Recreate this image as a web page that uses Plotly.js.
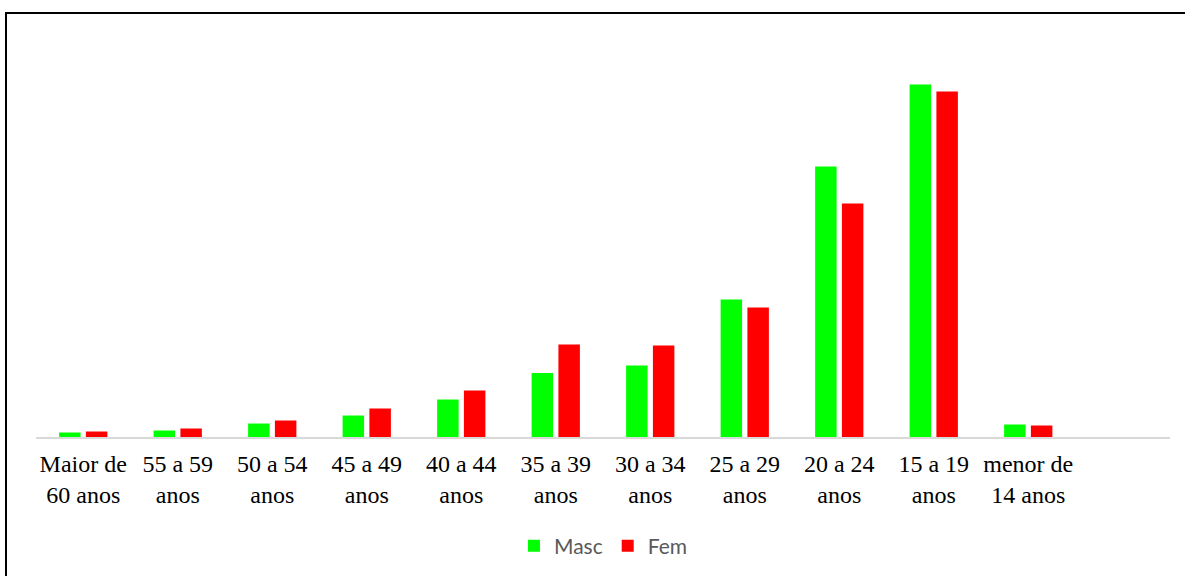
<!DOCTYPE html>
<html>
<head>
<meta charset="utf-8">
<script src="https://cdn.plot.ly/plotly-3.0.1.min.js"></script>
<style>
  html, body { margin: 0; padding: 0; background: #ffffff; overflow: hidden; }
  #chart { position: absolute; left: 0; top: 0; width: 1185px; height: 576px; }
  #frame {
    position: absolute; left: 5px; top: 12px; width: 2000px; height: 2000px;
    border-left: 2px solid #000; border-top: 2px solid #000;
    pointer-events: none;
  }
</style>
</head>
<body>
<div id="chart"></div>
<div id="frame"></div>
<script>
// Faixas etárias (rótulos do eixo x)
const faixas = [
  'Maior de<br>60 anos', '55 a 59<br>anos', '50 a 54<br>anos', '45 a 49<br>anos',
  '40 a 44<br>anos', '35 a 39<br>anos', '30 a 34<br>anos', '25 a 29<br>anos',
  '20 a 24<br>anos', '15 a 19<br>anos', 'menor de<br>14 anos'
];

// Valores por sexo
const masc = [4.5, 6.5, 13.5, 21.5, 37.5, 64, 71.5, 137.5, 270.5, 352.5, 12.5];
const fem  = [5.5, 8.5, 16.5, 28.5, 46.5, 92.5, 91.5, 129.5, 233.5, 345.5, 11.5];

const posicoes = faixas.map((_, i) => i);

const traces = [
  { type: 'bar', name: 'Masc', x: posicoes, y: masc, marker: { color: '#00ff00' }, hoverinfo: 'y' },
  { type: 'bar', name: 'Fem',  x: posicoes, y: fem,  marker: { color: '#ff0000' }, hoverinfo: 'y' }
];

const layout = {
  width: 1185,
  height: 576,
  margin: { l: 36, r: 15, t: 37, b: 139, pad: 0, autoexpand: false },
  paper_bgcolor: '#ffffff',
  plot_bgcolor: '#ffffff',
  barmode: 'group',
  bargap: 0.433,
  bargroupgap: 0.198,
  showlegend: true,
  legend: {
    orientation: 'h',
    x: 0.5004, xanchor: 'center',
    y: -0.2725, yanchor: 'middle',
    font: { family: 'Lato, sans-serif', size: 21, color: '#595959' },
    itemclick: false
  },
  xaxis: {
    range: [-0.5, 11.5],
    tickmode: 'array',
    tickvals: posicoes,
    ticktext: faixas,
    ticks: '',
    ticklabelstandoff: 4,
    showgrid: false,
    zeroline: false,
    showline: true,
    linecolor: '#d9d9d9',
    linewidth: 2,
    tickfont: { family: '"Liberation Serif", "Times New Roman", serif', size: 24, color: '#000000' },
    fixedrange: true
  },
  yaxis: {
    range: [0, 400],
    visible: false,
    fixedrange: true
  }
};

Plotly.newPlot('chart', traces, layout, { displayModeBar: false, staticPlot: true });
</script>
</body>
</html>
